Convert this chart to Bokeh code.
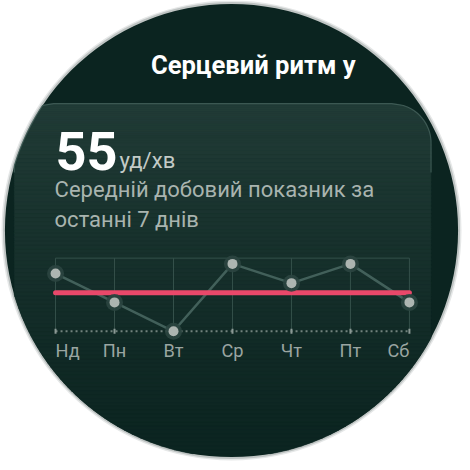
import numpy as np
from bokeh.plotting import figure
from bokeh.models import Range1d, ColumnDataSource
from bokeh.core.properties import value
from bokeh.embed import file_html
from bokeh.resources import INLINE

# ---- data ----
days = ["Нд", "Пн", "Вт", "Ср", "Чт", "Пт", "Сб"]
bpm = [57, 54, 51, 58, 56, 58, 54]
avg_bpm = 55
unit = "уд/хв"
title = "Серцевий ритм у"
subtitle = ["Середній добовий показник за", "останні 7 днів"]
y_low, y_high = 51, 58.6

# ---- canvas (layout designed on a 470 grid, drawn into 462 px) ----
W = H = 462
G = 470.0
S = W / G
px_per_day = 60.0
x0_px = 56.0
px_per_bpm = 9.79
y_low_px = 336.5  # top-down position of y_low on the 470 grid

x_range = Range1d(-x0_px / px_per_day, (G - x0_px) / px_per_day)
y_range = Range1d(y_low - (G - y_low_px) / px_per_bpm, y_low + y_low_px / px_per_bpm)

p = figure(width=W, height=H, output_backend="svg", toolbar_location=None,
           x_axis_type=None, y_axis_type=None, min_border=0,
           x_range=x_range, y_range=y_range, title=None)
p.outline_line_color = None
p.background_fill_color = "white"
p.border_fill_color = "white"
p.extra_x_ranges = {"px": Range1d(0, G)}
p.extra_y_ranges = {"px": Range1d(G, 0)}
PX = dict(x_range_name="px", y_range_name="px")


def fs(v):
    return "%.1fpx" % (v * S)


MID = 0.35  # baseline -> middle offset, in em


# ---- watch background ----
cx, cy, r = 235.0, 234.0, 230.5
p.circle(x=[cx], y=[cy], radius=r + 3.5, fill_color="#e6e8e8", line_color=None, level="image", **PX)
p.circle(x=[cx], y=[cy], radius=r + 2.0, fill_color="#bfc4c3", line_color=None, level="image", **PX)
p.circle(x=[cx], y=[cy], radius=r, fill_color="#0b2420", line_color=None, level="image", **PX)

# card: rounded rect clipped by circle, with vertical gradient
cl, cr, ct, R = 14.0, 438.0, 105.0, 40.0


def bounds(yy):
    xl, xr = cl, cr
    if yy < ct + R:
        d = ct + R - yy
        s = np.sqrt(max(R * R - d * d, 0.0))
        xl = cl + R - s
        xr = cr - R + s
    c = np.sqrt(max(r * r - (yy - cy) ** 2, 0.0))
    return max(xl, cx - c), min(xr, cx + c)


top_c = np.array([35, 61, 56])
bot_c = np.array([12, 37, 33])
y_end = cy + r
xs_list, ys_list, cols = [], [], []
edges = np.concatenate([np.linspace(ct, ct + 40, 21), np.arange(ct + 44, y_end, 4.0)])
for ya, yb in zip(edges[:-1], edges[1:]):
    ss = np.linspace(ya, yb, 6)
    bl = [bounds(s) for s in ss]
    if min(b[1] - b[0] for b in bl) <= 0:
        continue
    xs = [b[0] for b in bl] + [b[1] for b in bl][::-1]
    ys = list(ss) + list(ss)[::-1]
    t = min(((ya + yb) / 2 - ct) / (448 - ct), 1.0) ** 0.85
    c = (top_c + (bot_c - top_c) * t).astype(int)
    col = "#%02x%02x%02x" % tuple(c)
    xs_list.append(xs)
    ys_list.append(ys)
    cols.append(col)
p.patches(xs=xs_list, ys=ys_list, fill_color=cols, line_color=cols, line_width=0.6,
          level="image", **PX)

# card top highlight
ly = np.linspace(ct + 70, ct, 40)
hl_x = [bounds(v)[0] for v in ly] + [bounds(v)[1] for v in ly[::-1]]
hl_y = list(ly) + list(ly[::-1])
p.line(x=hl_x, y=hl_y, line_color="#4b6863", line_alpha=0.7, line_width=1.2, level="image", **PX)

# ---- texts ----
FONT = value("Roboto")


def label(x, baseline, text, size, color, bold=False):
    ys = [b - MID * size for b in baseline]
    p.text(x=x, y=ys, text=text, text_font=FONT,
           text_font_style="bold" if bold else "normal",
           text_font_size=fs(size), text_color=color, text_baseline="middle", **PX)


label([153], [75], [title], 26, "white", bold=True)
label([56], [172], [str(avg_bpm)], 55, "white", bold=True)
label([121], [170], [unit], 22.5, "#c3cbc7")
label([55, 55], [200, 231], subtitle, 22.4, "#a9b4af")

# ---- chart ----
idx = list(range(len(days)))
n = len(idx)
# vertical grid lines and top line
p.segment(x0=idx, y0=[y_low] * n, x1=idx, y1=[y_high] * n,
          line_color="#34504a", line_width=1)
p.segment(x0=[idx[0]], y0=[y_high], x1=[idx[-1]], y1=[y_high],
          line_color="#34504a", line_width=1)
# dotted baseline with day ticks
p.line(x=[idx[0], idx[-1]], y=[y_low, y_low], line_color="#71827d", line_width=2,
       line_dash="2 3")
p.scatter(x=idx, y=[y_low] * n, marker="dash", angle=np.pi / 2, size=5,
          line_color="#8b9995", line_width=2)

p.line(x=idx, y=bpm, line_color="#42605a", line_width=2.5)
p.line(x=[idx[0], idx[-1]], y=[avg_bpm, avg_bpm], line_color="#e9486a", line_width=5,
       line_cap="round")
p.scatter(x=idx, y=bpm, size=17, fill_color="#2b4540", fill_alpha=0.9, line_color=None)
p.scatter(x=idx, y=bpm, size=10, fill_color="#adb5b1", line_color=None)

day_size = 18.5
aligns = ["left"] + ["center"] * (n - 2) + ["right"]
lab_src = ColumnDataSource(dict(x=idx, y=[y_low] * n, t=days, a=aligns))
p.text(x="x", y="y", text="t", text_align="a", source=lab_src,
       y_offset=round((25.5 - MID * day_size) * S),
       text_font=FONT, text_font_size=fs(day_size), text_color="#9aa5a1",
       text_baseline="middle")

open("out.html", "w").write(file_html(p, INLINE))
